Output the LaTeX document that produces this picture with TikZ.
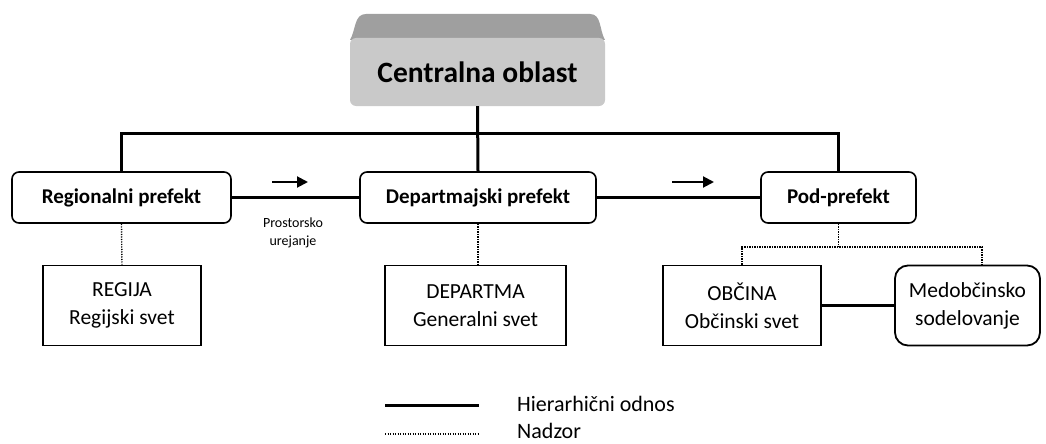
\documentclass[tikz,border=0pt]{standalone}
\usepackage{fontspec}
\setmainfont{Carlito}
\usetikzlibrary{arrows.meta,calc}
\begin{document}
\begin{tikzpicture}[x=1pt,y=-1pt,
  hier/.style={line width=3pt},
  superv/.style={line width=1.4pt,dash pattern=on 1.2pt off 1.3pt},
  prefbox/.style={draw,line width=1.6pt,rounded corners=7pt,font=\fontsize{21}{24}\selectfont\bfseries,inner sep=0pt},
  unitbox/.style={draw,line width=1.8pt,align=center,font=\fontsize{21.5}{28}\selectfont,inner sep=0pt,minimum height=80pt},
  arr/.style={line width=2pt,-{Triangle[length=11pt,width=11pt]}}
]
\useasboundingbox (0,0) rectangle (1046,444);
% central 3D box
\fill[gray!75] (366,14) -- (590,14) to[out=0,in=120] (605,40) -- (350,40) to[out=60,in=180] (366,14);
\node[fill=gray!42,rounded corners=6pt,minimum width=255pt,minimum height=68pt,inner sep=0pt,
  font=\fontsize{29.5}{32}\selectfont\bfseries] (c) at (477.5,72) {Centralna oblast};
% prefects
\node[prefbox,minimum width=219pt,minimum height=51pt] (reg) at (121.5,197.5) {Regionalni prefekt};
\node[prefbox,minimum width=236pt,minimum height=51pt] (dep) at (478,197.5) {Departmajski prefekt};
\node[prefbox,minimum width=155pt,minimum height=51pt] (pod) at (838.5,197.5) {Pod-prefekt};
% units
\node[unitbox,minimum width=158pt] (regija) at (122,305.5) {REGIJA\\Regijski svet};
\node[unitbox,minimum width=181pt] (departma) at (475.5,305.5) {DEPARTMA\\Generalni svet};
\node[unitbox,minimum width=158pt] (obcina) at (742,305.5) {OBČINA\\Občinski svet};
\node[unitbox,minimum width=145pt,rounded corners=13pt] (medob) at (967.5,305.5) {Medobčinsko\\sodelovanje};
% hierarchy
\coordinate (bar) at (478,133);
\draw[hier] (c.south) -- (dep.north);
\draw[hier] (reg.north) |- (bar) -| (pod.north);
\draw[hier] (reg.east) -- (dep.west);
\draw[hier] (dep.east) -- (pod.west);
\draw[hier] (obcina.east) -- (medob.west);
% arrows
\coordinate (a1s) at (272,182); \coordinate (a1e) at (308,182);
\coordinate (a2s) at (672,182); \coordinate (a2e) at (714,182);
\draw[arr] (a1s) -- (a1e);
\draw[arr] (a2s) -- (a2e);
\node[font=\fontsize{14}{18}\selectfont,align=center] (pu) at (293,233) {Prostorsko\\urejanje};
% supervision
\coordinate (dj) at (838.5,247);
\draw[superv] (reg.south) -- (regija.north);
\draw[superv] (dep.south) -- (departma.north -| dep.south);
\draw[superv] (pod.south) -- (dj);
\draw[superv] (obcina.north) |- (dj) -| ([xshift=14.5pt]medob.north);
% legend
\coordinate (l1s) at (385,405); \coordinate (l1e) at (479,405);
\coordinate (l2s) at (385,434); \coordinate (l2e) at (479,434);
\draw[hier] (l1s) -- (l1e);
\draw[superv] (l2s) -- (l2e);
\node[anchor=west,font=\fontsize{22}{24}\selectfont,inner sep=0pt] (lh) at (517,404) {Hierarhični odnos};
\node[anchor=west,font=\fontsize{22}{24}\selectfont,inner sep=0pt] (ln) at (517,431) {Nadzor};
\end{tikzpicture}
\end{document}
